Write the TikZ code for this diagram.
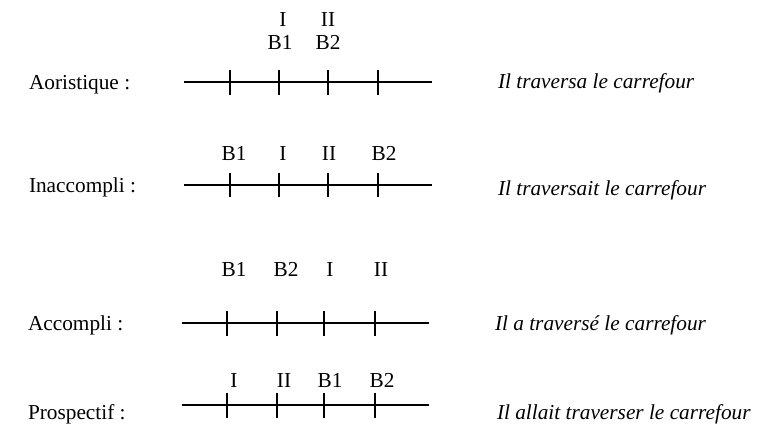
\documentclass[tikz,border=0pt]{standalone}
\usepackage{fontspec}
\setmainfont{Liberation Serif}
\begin{document}
\begin{tikzpicture}[x=0.5pt,y=-0.5pt,
  every node/.style={inner sep=0pt,outer sep=0pt,font=\fontsize{10.65}{12}\selectfont},
  lbl/.style={anchor=base},
  rowname/.style={anchor=base west},
  example/.style={anchor=base west,font=\fontsize{10.65}{12}\selectfont\itshape},
  axis/.style={line width=0.55pt},
  tickmark/.style={line width=0.55pt}]
\useasboundingbox (0,0) rectangle (760,435);

% ---------- Row 1 : Aoristique
\node[rowname] (n1) at (29,89) {Aoristique :};
\node[example] (e1) at (498,88) {Il traversa le carrefour};
\coordinate (a1s) at (184,82); \coordinate (a1e) at (432,82);
\draw[axis] (a1s) -- (a1e);
\foreach \x in {230,279,328,378} \draw[tickmark] (\x,70) -- (\x,95);
\node[lbl] (r1I)  at (283,26) {I};
\node[lbl] (r1II) at (328,26) {II};
\node[lbl] (r1B1) at (280,49) {B1};
\node[lbl] (r1B2) at (328,49) {B2};

% ---------- Row 2 : Inaccompli
\node[rowname] (n2) at (29,192) {Inaccompli :};
\node[example] (e2) at (498,195) {Il traversait le carrefour};
\coordinate (a2s) at (184,185); \coordinate (a2e) at (432,185);
\draw[axis] (a2s) -- (a2e);
\foreach \x in {230,279,328,378} \draw[tickmark] (\x,173) -- (\x,197);
\node[lbl] (r2B1) at (234,160) {B1};
\node[lbl] (r2I)  at (283,160) {I};
\node[lbl] (r2II) at (329,160) {II};
\node[lbl] (r2B2) at (384,160) {B2};

% ---------- Row 3 : Accompli
\node[rowname] (n3) at (28,330) {Accompli :};
\node[example] (e3) at (495,330) {Il a traversé le carrefour};
\coordinate (a3s) at (182,323); \coordinate (a3e) at (429,323);
\draw[axis] (a3s) -- (a3e);
\foreach \x in {227,277,324,375} \draw[tickmark] (\x,311) -- (\x,336);
\node[lbl] (r3B1) at (234,276) {B1};
\node[lbl] (r3B2) at (286,276) {B2};
\node[lbl] (r3I)  at (330,276) {I};
\node[lbl] (r3II) at (381,276) {II};

% ---------- Row 4 : Prospectif
\node[rowname] (n4) at (28,419) {Prospectif :};
\node[example] (e4) at (497,419) {Il allait traverser le carrefour};
\coordinate (a4s) at (182,405); \coordinate (a4e) at (429,405);
\draw[axis] (a4s) -- (a4e);
\foreach \x in {227,277,324,375} \draw[tickmark] (\x,393) -- (\x,418);
\node[lbl] (r4I)  at (234,387) {I};
\node[lbl] (r4II) at (284,387) {II};
\node[lbl] (r4B1) at (330,387) {B1};
\node[lbl] (r4B2) at (382,387) {B2};
\end{tikzpicture}
\end{document}
